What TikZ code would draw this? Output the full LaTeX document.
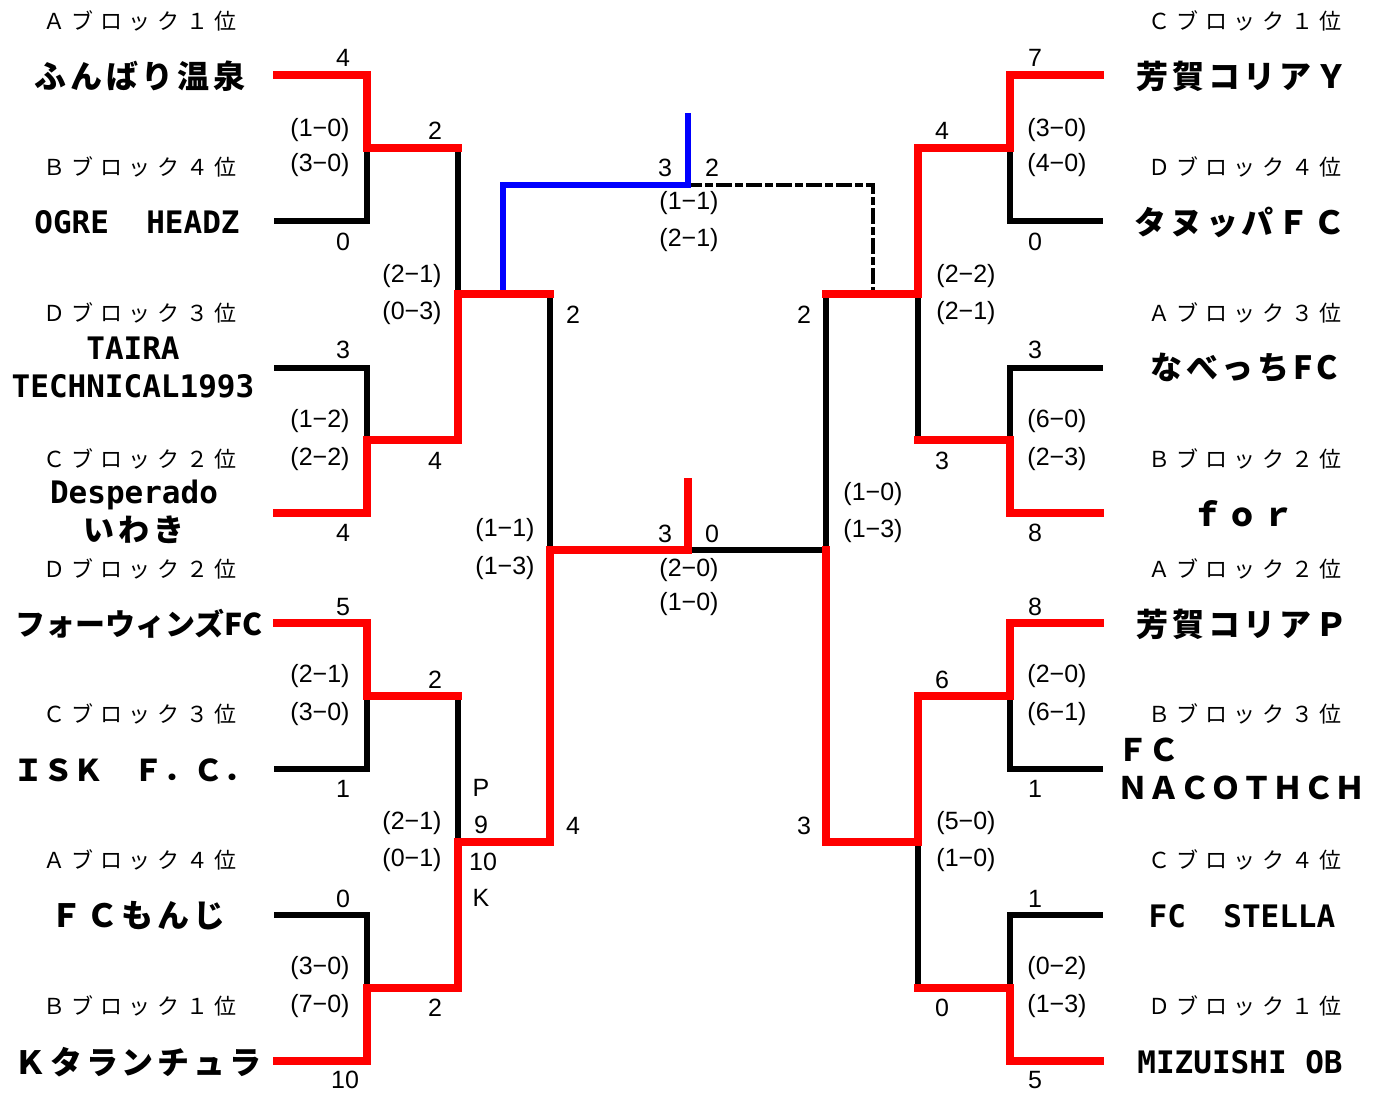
\documentclass[tikz,border=0pt]{standalone}
\usepackage{fontspec}
\newfontfamily\jpfont{Noto Sans CJK JP}
\newfontfamily\teamfont[LetterSpace=12]{Noto Sans CJK JP}
\newfontfamily\blockfont[LetterSpace=30]{Noto Sans CJK JP}
\newfontfamily\latfont{DejaVu Sans Mono}
\newfontfamily\numfont{Liberation Sans}

\begin{document}
\begin{tikzpicture}[x=1pt,y=1pt,yscale=-1,xscale=1,line cap=rect,
  lose/.style={draw=black,line width=5.5pt},
  win/.style={draw=red,line width=7.5pt},
  third/.style={draw=blue,line width=6pt},
  pending/.style={draw=black,line width=3.5pt,dash pattern=on 12pt off 7pt on 4pt off 7pt},
  blocklbl/.style={inner sep=0pt,font=\blockfont\fontsize{22}{22}\selectfont},
  teamjp/.style={inner sep=0pt,font=\teamfont\bfseries\fontsize{32}{36}\selectfont},
  teamlat/.style={inner sep=0pt,align=center,font=\latfont\bfseries\fontsize{31}{38}\selectfont},
  score/.style={inner sep=0pt,font=\numfont\fontsize{25}{25}\selectfont}]
\useasboundingbox (0,0) rectangle (1383,1102);

%Coordinates: team rows, joints
\foreach \i/\y in {1/75,2/221,3/368,4/513,5/623,6/769,7/915,8/1061}{
  \coordinate (lt\i) at (277,\y);
  \coordinate (la\i) at (367,\y);
  \coordinate (rt\i) at (1100,\y);
  \coordinate (ra\i) at (1010,\y);
}
\foreach \i/\y in {1/148,2/440,3/696,4/988}{
  \coordinate (lj\i) at (367,\y);
  \coordinate (lb\i) at (458,\y);
  \coordinate (rj\i) at (1010,\y);
  \coordinate (rb\i) at (918,\y);
}
\foreach \i/\y in {1/294,2/842}{
  \coordinate (lk\i) at (458,\y);
  \coordinate (lc\i) at (550,\y);
  \coordinate (rk\i) at (918,\y);
  \coordinate (rc\i) at (826,\y);
}
\coordinate (lf) at (550,550);
\coordinate (rf) at (826,550);
\coordinate (fin) at (688,550);
\coordinate (fintop) at (688,482);
\coordinate (bl1) at (503,291);
\coordinate (bl2) at (503,185);
\coordinate (trd) at (688,185);
\coordinate (trdtop) at (688,116);
\coordinate (dsh1) at (873,185);
\coordinate (dsh2) at (873,291);

%Straight Lines: lost
\draw [lose] (lt2) -- (la2) -- (lj1);
\draw [lose] (lt3) -- (la3) -- (lj2);
\draw [lose] (lt6) -- (la6) -- (lj3);
\draw [lose] (lt7) -- (la7) -- (lj4);
\draw [lose] (lb1) -- (lk1);
\draw [lose] (lb3) -- (lk2);
\draw [lose] (lc1) -- (lf);
\draw [lose] (rt2) -- (ra2) -- (rj1);
\draw [lose] (rt3) -- (ra3) -- (rj2);
\draw [lose] (rt6) -- (ra6) -- (rj3);
\draw [lose] (rt7) -- (ra7) -- (rj4);
\draw [lose] (rb2) -- (rk1);
\draw [lose] (rb4) -- (rk2);
\draw [lose] (rc1) -- (rf) -- (fin);
%Straight Lines: pending
\draw [pending] (trd) -- (dsh1) -- (dsh2);
%Straight Lines: third place
\draw [third] (bl1) -- (bl2) -- (trd) -- (trdtop);
%Straight Lines: won
\draw [win] (lt1) -- (la1) -- (lj1) -- (lb1);
\draw [win] (lt4) -- (la4) -- (lj2) -- (lb2) -- (lk1) -- (lc1);
\draw [win] (lt5) -- (la5) -- (lj3) -- (lb3);
\draw [win] (lt8) -- (la8) -- (lj4) -- (lb4) -- (lk2) -- (lc2) -- (lf) -- (fin) -- (fintop);
\draw [win] (rt1) -- (ra1) -- (rj1) -- (rb1) -- (rk1) -- (rc1);
\draw [win] (rt4) -- (ra4) -- (rj2) -- (rb2);
\draw [win] (rt5) -- (ra5) -- (rj3) -- (rb3) -- (rk2) -- (rc2) -- (rf);
\draw [win] (rt8) -- (ra8) -- (rj4) -- (rb4);

% Text Node: blocks, left
\draw (140,21) node (blkL1) [blocklbl] {Ａブロック１位};
\draw (140,167) node (blkL2) [blocklbl] {Ｂブロック４位};
\draw (140,313) node (blkL3) [blocklbl] {Ｄブロック３位};
\draw (140,459) node (blkL4) [blocklbl] {Ｃブロック２位};
\draw (140,569) node (blkL5) [blocklbl] {Ｄブロック２位};
\draw (140,714) node (blkL6) [blocklbl] {Ｃブロック３位};
\draw (140,860) node (blkL7) [blocklbl] {Ａブロック４位};
\draw (140,1006) node (blkL8) [blocklbl] {Ｂブロック１位};
% Text Node: blocks, right
\draw (1245,21) node (blkR1) [blocklbl] {Ｃブロック１位};
\draw (1245,167) node (blkR2) [blocklbl] {Ｄブロック４位};
\draw (1245,313) node (blkR3) [blocklbl] {Ａブロック３位};
\draw (1245,459) node (blkR4) [blocklbl] {Ｂブロック２位};
\draw (1245,569) node (blkR5) [blocklbl] {Ａブロック２位};
\draw (1245,714) node (blkR6) [blocklbl] {Ｂブロック３位};
\draw (1245,860) node (blkR7) [blocklbl] {Ｃブロック４位};
\draw (1245,1006) node (blkR8) [blocklbl] {Ｄブロック１位};

% Text Node: teams, left
\draw (140,76) node (tmL1) [teamjp] {ふんばり温泉};
\draw (137,222) node (tmL2) [teamlat] {OGRE~~HEADZ};
\draw (133,367) node (tmL3) [teamlat] {TAIRA\\TECHNICAL1993};
\draw (134,512) node (tmL4) [teamlat] {Desperado\\{\teamfont いわき}};
\draw (139,624) node (tmL5) [teamjp,font=\jpfont\bfseries\fontsize{30}{30}\selectfont] {フォーウィンズFC};
\draw (133,770) node (tmL6) [teamjp,font=\jpfont\bfseries\fontsize{30}{30}\selectfont] {ＩＳＫ　Ｆ．Ｃ．};
\draw (138,916) node (tmL7) [teamjp] {ＦＣもんじ};
\draw (138,1062) node (tmL8) [teamjp] {Ｋタランチュラ};
% Text Node: teams, right
\draw (1242,76) node (tmR1) [teamjp] {芳賀コリアＹ};
\draw (1240,222) node (tmR2) [teamjp] {タヌッパＦＣ};
\draw (1244,368) node (tmR3) [teamjp] {なべっちFC};
\draw (1243,514) node (tmR4) [teamjp] {ｆｏｒ};
\draw (1242,624) node (tmR5) [teamjp] {芳賀コリアＰ};
\draw (1117,769) node (tmR6) [teamjp,anchor=west,align=left,font=\jpfont\bfseries\fontsize{31}{38}\selectfont] {ＦＣ\\ＮＡＣＯＴＨＣＨ};
\draw (1242,916) node (tmR7) [teamlat] {FC~~STELLA};
\draw (1240,1062) node (tmR8) [teamlat] {MIZUISHI OB};

% Text Node: first round, left
\draw (343,58) node (scL1) [score] {4};
\draw (343,242) node (scL2) [score] {0};
\draw (343,350) node (scL3) [score] {3};
\draw (343,533) node (scL4) [score] {4};
\draw (343,607) node (scL5) [score] {5};
\draw (343,789) node (scL6) [score] {1};
\draw (343,899) node (scL7) [score] {0};
\draw (345,1080) node (scL8) [score] {10};
\draw (320,130) node (pkL1a) [score] {(1−0)};
\draw (320,165) node (pkL1b) [score] {(3−0)};
\draw (320,421) node (pkL2a) [score] {(1−2)};
\draw (320,459) node (pkL2b) [score] {(2−2)};
\draw (320,676) node (pkL3a) [score] {(2−1)};
\draw (320,714) node (pkL3b) [score] {(3−0)};
\draw (320,968) node (pkL4a) [score] {(3−0)};
\draw (320,1006) node (pkL4b) [score] {(7−0)};
% Text Node: second round, left
\draw (435,131) node (scLb1) [score] {2};
\draw (435,461) node (scLb2) [score] {4};
\draw (435,680) node (scLb3) [score] {2};
\draw (435,1008) node (scLb4) [score] {2};
\draw (412,276) node (pkLb1a) [score] {(2−1)};
\draw (412,313) node (pkLb1b) [score] {(0−3)};
\draw (412,823) node (pkLb2a) [score] {(2−1)};
\draw (412,860) node (pkLb2b) [score] {(0−1)};
\draw (481,788) node (pkP) [score] {P};
\draw (481,825) node (pkP9) [score] {9};
\draw (483,862) node (pkK10) [score] {10};
\draw (481,898) node (pkK) [score] {K};
% Text Node: semi final, left
\draw (573,315) node (scLc1) [score] {2};
\draw (573,826) node (scLc2) [score] {4};
\draw (505,530) node (pkLc1) [score] {(1−1)};
\draw (505,568) node (pkLc2) [score] {(1−3)};

% Text Node: centre
\draw (665,168) node (scTrdL) [score] {3};
\draw (712,168) node (scTrdR) [score] {2};
\draw (689,203) node (pkTrd1) [score] {(1−1)};
\draw (689,240) node (pkTrd2) [score] {(2−1)};
\draw (665,534) node (scFinL) [score] {3};
\draw (712,534) node (scFinR) [score] {0};
\draw (689,570) node (pkFin1) [score] {(2−0)};
\draw (689,604) node (pkFin2) [score] {(1−0)};

% Text Node: semi final, right
\draw (804,315) node (scRc1) [score] {2};
\draw (804,826) node (scRc2) [score] {3};
\draw (873,494) node (pkRc1) [score] {(1−0)};
\draw (873,531) node (pkRc2) [score] {(1−3)};
% Text Node: second round, right
\draw (942,131) node (scRb1) [score] {4};
\draw (942,461) node (scRb2) [score] {3};
\draw (942,680) node (scRb3) [score] {6};
\draw (942,1008) node (scRb4) [score] {0};
\draw (966,276) node (pkRb1a) [score] {(2−2)};
\draw (966,313) node (pkRb1b) [score] {(2−1)};
\draw (966,823) node (pkRb2a) [score] {(5−0)};
\draw (966,860) node (pkRb2b) [score] {(1−0)};
% Text Node: first round, right
\draw (1035,58) node (scR1) [score] {7};
\draw (1035,242) node (scR2) [score] {0};
\draw (1035,350) node (scR3) [score] {3};
\draw (1035,533) node (scR4) [score] {8};
\draw (1035,607) node (scR5) [score] {8};
\draw (1035,789) node (scR6) [score] {1};
\draw (1035,899) node (scR7) [score] {1};
\draw (1035,1080) node (scR8) [score] {5};
\draw (1057,130) node (pkR1a) [score] {(3−0)};
\draw (1057,165) node (pkR1b) [score] {(4−0)};
\draw (1057,421) node (pkR2a) [score] {(6−0)};
\draw (1057,459) node (pkR2b) [score] {(2−3)};
\draw (1057,676) node (pkR3a) [score] {(2−0)};
\draw (1057,714) node (pkR3b) [score] {(6−1)};
\draw (1057,968) node (pkR4a) [score] {(0−2)};
\draw (1057,1006) node (pkR4b) [score] {(1−3)};
\end{tikzpicture}
\end{document}
